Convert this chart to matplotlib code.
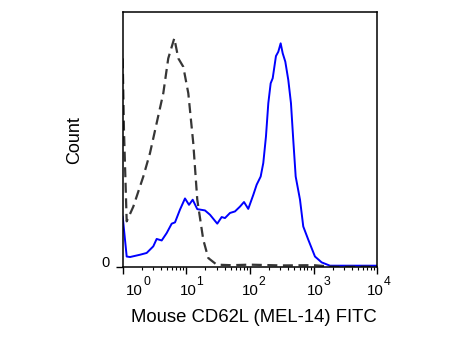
import matplotlib
matplotlib.use("Agg")
import matplotlib.pyplot as plt
import numpy as np

plt.rcParams["font.family"] = ["Liberation Sans", "DejaVu Sans"]

# ---------------------------------------------------------------------------
# Data (x in decades, y in % of axis height)
# ---------------------------------------------------------------------------
stained_dec = [0.0, 0.063, 0.115, 0.272, 0.377, 0.481, 0.534, 0.613, 0.691,
               0.770, 0.822, 0.900, 0.979, 1.042, 1.100, 1.172, 1.293, 1.372,
               1.486, 1.555, 1.607, 1.686, 1.764, 1.843, 1.906, 1.973, 2.052,
               2.105, 2.168, 2.209, 2.251, 2.288, 2.325, 2.357, 2.408, 2.445,
               2.482, 2.514, 2.555, 2.602, 2.644, 2.680, 2.718, 2.786, 2.837,
               2.916, 3.021, 3.126, 3.257, 3.5, 4.0]
stained_cnt = [19.7, 4.0, 3.8, 4.7, 5.4, 8.0, 10.9, 10.3, 13.2,
               16.9, 17.4, 22.4, 26.8, 24.3, 26.3, 22.6, 22.1, 20.4,
               16.9, 19.5, 19.1, 21.1, 21.7, 23.6, 25.4, 22.7, 28.2,
               32.2, 35.4, 40.7, 51.1, 64.2, 72.0, 74.0, 82.7, 84.4,
               87.7, 83.8, 80.5, 73.3, 64.2, 49.8, 35.4, 26.3, 15.8,
               10.6, 4.0, 1.7, 0.4, 0.4, 0.4]

control_dec = [0.0, 0.02, 0.063, 0.167, 0.324, 0.429, 0.534, 0.638, 0.716,
               0.811, 0.874, 0.952, 1.031, 1.109, 1.172, 1.266, 1.345, 1.477,
               1.7, 2.0, 2.5, 3.0, 3.15, 3.3, 4.0]
control_cnt = [81.8, 53.7, 17.8, 23.6, 35.4, 44.6, 56.4, 68.1, 81.8,
               89.7, 81.8, 78.5, 68.1, 48.5, 26.3, 10.6, 3.4, 0.8,
               0.6, 0.8, 0.5, 0.6, 0.3, 0.0, 0.0]

decades = [0, 1, 2, 3, 4]
xlabel = "Mouse CD62L (MEL-14) FITC"
ylabel = "Count"

# ---------------------------------------------------------------------------
# Figure
# ---------------------------------------------------------------------------
fig = plt.figure(figsize=(4.64, 3.48), dpi=100)
ax = fig.add_axes([0.2644, 0.2336, 0.5487, 0.7319])

ax.plot(10.0 ** np.array(stained_dec), stained_cnt, color="#0000ff", lw=1.4)
ax.plot(10.0 ** np.array(control_dec), control_cnt, color="#363636", lw=1.6,
        dashes=(4.5, 2.5))

ax.set_xscale("log")
ax.set_xlim(1, 1e4)
ax.set_ylim(0, 100)

for s in ax.spines.values():
    s.set_linewidth(1.1)

ax.set_xticks([10.0 ** d for d in decades])
ax.set_xticks([k * 10.0 ** d for d in decades[:-1] for k in range(2, 10)],
              minor=True)
ax.set_xticklabels([])
ax.set_xticklabels([], minor=True)
ax.tick_params(axis="x", which="major", length=4.8, width=1.0, direction="out")
ax.tick_params(axis="x", which="minor", length=2.4, width=0.8, direction="out")
ax.set_yticks([0])
ax.set_yticklabels([])
ax.tick_params(axis="y", length=4.8, width=1.0, direction="out")

# decade labels: "10" centred under the tick, exponent raised at its right
label_dx = [12, 1.5, 0, 1.5, -2]
for d, dx in zip(decades, label_dx):
    xy = (10.0 ** d, 0)
    ax.annotate("10", xy=xy, xycoords=("data", "axes fraction"),
                xytext=(dx, -17.0), textcoords="offset pixels",
                ha="center", va="top", fontsize=10.8)
    ax.annotate(str(d), xy=xy, xycoords=("data", "axes fraction"),
                xytext=(dx + 8.6, -9.2), textcoords="offset pixels",
                ha="left", va="top", fontsize=8.8)

ax.annotate("0", xy=(0, 0), xycoords="axes fraction", xytext=(-12.7, 4),
            textcoords="offset pixels", ha="right", va="center", fontsize=10.5)

fig.text(75 / 464, 1 - 140 / 348, ylabel, rotation=90, ha="center",
         va="center", fontsize=13)
fig.text(254 / 464, 1 - 317 / 348, xlabel, ha="center", va="center",
         fontsize=13.3)

fig.savefig("out.png", dpi=100)
